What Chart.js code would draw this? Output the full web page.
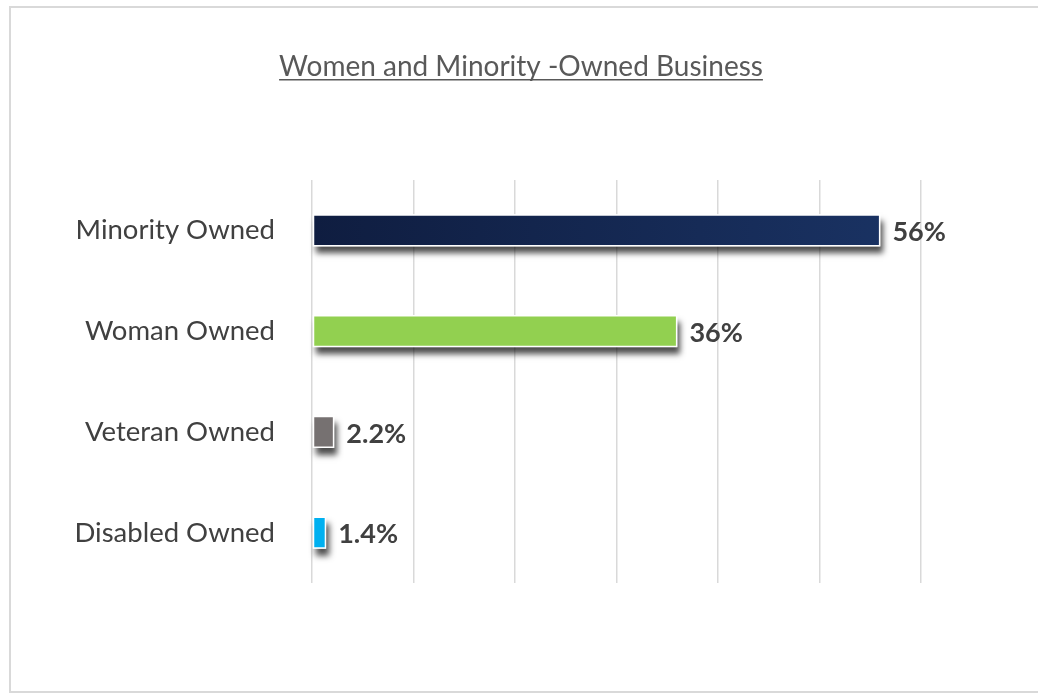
<!DOCTYPE html>
<html>
<head>
<meta charset="utf-8">
<script src="https://cdn.jsdelivr.net/npm/chart.js@4/dist/chart.umd.min.js"></script>
<style>
  html, body { margin: 0; padding: 0; background: #fff; }
  #wrap { position: relative; width: 1038px; height: 693px; }
</style>
</head>
<body>
<div id="wrap"><canvas id="bizChart" width="1038" height="693"></canvas></div>
<script>
const chartTitle = "Women and Minority -Owned Business";
const categories = ["Minority Owned", "Woman Owned", "Veteran Owned", "Disabled Owned"];
const shares = [56, 36, 2.2, 1.4];
const shareLabels = ["56%", "36%", "2.2%", "1.4%"];
const barColors = ["#142a57", "#92d050", "#767171", "#00b0f0"];
const axisMax = 60;
const axisStep = 10;

const FONT = "Lato, 'Open Sans', sans-serif";

function navyGradient(context) {
  const chart = context.chart;
  const area = chart.chartArea;
  if (!area) return barColors[0];
  const g = chart.ctx.createLinearGradient(area.left, 0, area.right, 0);
  g.addColorStop(0, "#0f1d40");
  g.addColorStop(1, "#1a3364");
  return g;
}

// frame, title (underlined), bar shadows and value labels
const decorPlugin = {
  id: "decor",
  beforeDraw(chart) {
    const ctx = chart.ctx;
    ctx.save();
    ctx.strokeStyle = "#d9d9d9";
    ctx.lineWidth = 2;
    ctx.strokeRect(10, 7, 1100, 685);
    ctx.restore();
  },
  beforeDatasetsDraw(chart) {
    const ctx = chart.ctx;
    const meta = chart.getDatasetMeta(0);
    ctx.save();
    ctx.shadowColor = "rgba(0,0,0,0.7)";
    ctx.shadowBlur = 6;
    ctx.shadowOffsetX = 3;
    ctx.shadowOffsetY = 7;
    ctx.fillStyle = "#fff";
    meta.data.forEach(bar => {
      const h = bar.height;
      ctx.fillRect(bar.base, bar.y - h / 2, bar.x - bar.base, h);
    });
    ctx.restore();
  },
  afterDraw(chart) {
    const ctx = chart.ctx;
    ctx.save();
    // title
    ctx.font = "28px " + FONT;
    ctx.fillStyle = "#595959";
    ctx.textAlign = "center";
    ctx.textBaseline = "alphabetic";
    const cx = 521;
    ctx.fillText(chartTitle, cx, 76);
    const w = ctx.measureText(chartTitle).width;
    ctx.fillRect(cx - w / 2, 79, w, 1.5);

    // value labels
    const meta = chart.getDatasetMeta(0);
    ctx.font = "bold 27px " + FONT;
    ctx.fillStyle = "#404040";
    ctx.textAlign = "left";
    ctx.textBaseline = "middle";
    meta.data.forEach((bar, i) => {
      ctx.fillText(shareLabels[i], bar.x + 12, bar.y + 2);
    });
    ctx.restore();
  }
};

new Chart(document.getElementById("bizChart"), {
  type: "bar",
  data: {
    labels: categories,
    datasets: [{
      data: shares,
      backgroundColor: ctx => ctx.dataIndex === 0 ? navyGradient(ctx) : barColors[ctx.dataIndex],
      borderColor: "#ffffff",
      borderWidth: 1.5,
      borderSkipped: false,
      barPercentage: 1,
      categoryPercentage: 0.32
    }]
  },
  options: {
    indexAxis: "y",
    responsive: false,
    animation: false,
    layout: { padding: { left: 0, right: 117, top: 180, bottom: 110 } },
    plugins: {
      legend: { display: false },
      title: { display: false },
      tooltip: { enabled: false }
    },
    scales: {
      x: {
        min: 0,
        max: axisMax,
        ticks: { display: false, stepSize: axisStep },
        grid: { color: "#d9d9d9", lineWidth: 1.5, drawTicks: false },
        border: { display: false },
        afterFit: scale => { scale.height = 0; }
      },
      y: {
        grid: { display: false, drawTicks: false },
        border: { display: false },
        ticks: {
          color: "#404040",
          padding: 37,
          font: { family: FONT, size: 27.5 }
        },
        afterFit: scale => { scale.width = 312; }
      }
    }
  },
  plugins: [decorPlugin]
});
</script>
</body>
</html>
